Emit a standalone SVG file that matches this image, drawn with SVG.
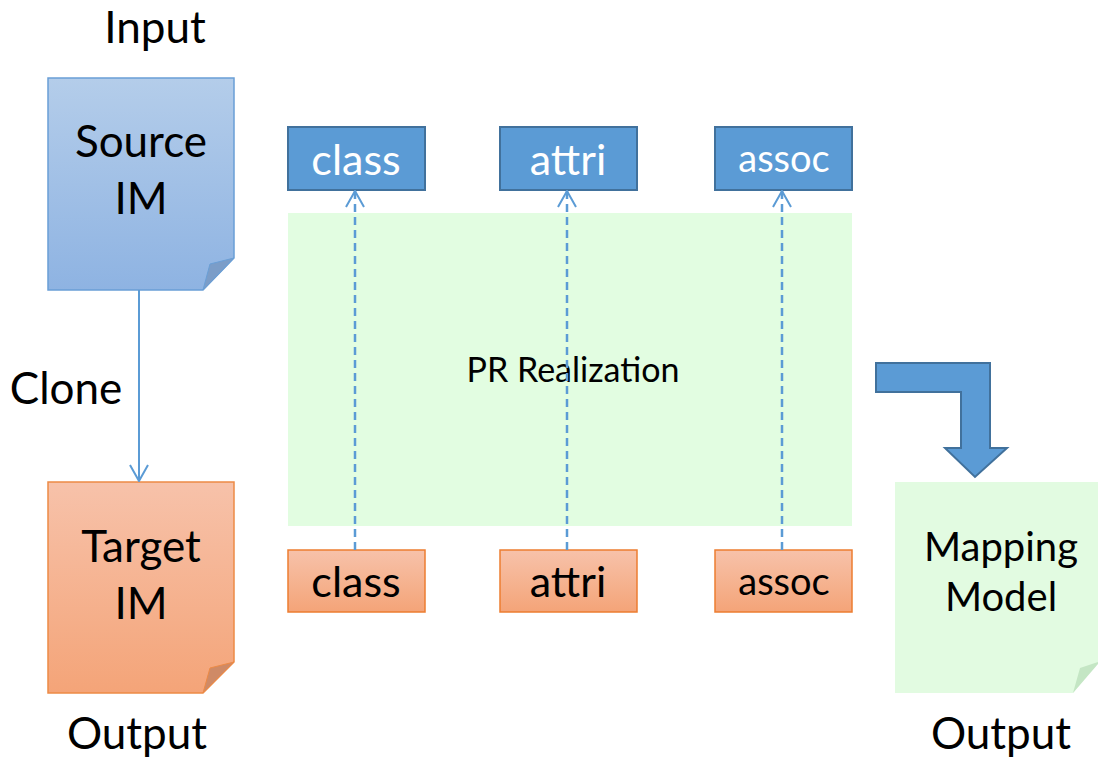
<svg xmlns="http://www.w3.org/2000/svg" width="1098" height="757" viewBox="0 0 1098 757">
<defs>
<linearGradient id="gBlue" x1="0" y1="0" x2="0" y2="1"><stop offset="0" stop-color="#b4cdea"/><stop offset="1" stop-color="#8eb3e2"/></linearGradient>
<linearGradient id="gOr" x1="0" y1="0" x2="0" y2="1"><stop offset="0" stop-color="#f7c2aa"/><stop offset="1" stop-color="#f4a478"/></linearGradient>
<marker id="open" viewBox="0 0 20 20" refX="19" refY="10" markerWidth="20" markerHeight="20" markerUnits="userSpaceOnUse" orient="auto"><path d="M3 1 L19 10 L3 19" fill="none" stroke="#5b9bd5" stroke-width="2"/></marker>
</defs>
<style>
text{font-family:Lato,"Liberation Sans",sans-serif;fill:#000;text-anchor:middle}
.big{font-size:44px}
.box{font-size:43px}
.wt{fill:#fff}
.bbox{fill:#5b9bd5;stroke:#41719c;stroke-width:2}
.obox{fill:url(#gOr);stroke:#ed7d31;stroke-width:1.5}
.dash{stroke:#5b9bd5;stroke-width:2.5;stroke-dasharray:8 5;fill:none}
</style>
<rect width="1098" height="757" fill="#fff"/>
<text class="big" x="155" y="43">Input</text>
<text class="big" x="66" y="404">Clone</text>
<text class="big" x="137" y="749">Output</text>
<text class="big" x="1001" y="749">Output</text>

<g id="pr-realization">
<rect x="288" y="213" width="564" height="313" fill="#e2fde1"/>
<text x="573" y="382" style="font-size:34px">PR Realization</text>
</g>

<g id="source-im">
<polygon points="48,78 234,78 234,258 203,290 48,290" fill="url(#gBlue)" stroke="#6a9fd6" stroke-width="1.5"/>
<polygon points="203,290 210,264 234,258" fill="#7b9dc8" stroke="#6a9fd6" stroke-width="1"/>
<text class="big" x="141" y="157">Source</text>
<text class="big" x="141" y="214">IM</text>
</g>

<g id="target-im">
<polygon points="48,482 234,482 234,662 203,693 48,693" fill="url(#gOr)" stroke="#ed8a45" stroke-width="1.5"/>
<polygon points="203,693 210,668 234,662" fill="#cf8a66" stroke="#ed8a45" stroke-width="1"/>
<text class="big" x="141" y="562">Target</text>
<text class="big" x="141" y="619">IM</text>
</g>

<g id="mapping-model">
<polygon points="895,482 1098,482 1098,662 1073,693 895,693" fill="#e2fbe1"/>
<polygon points="1073,693 1080,668 1098,662 1098,664" fill="#c4e6c4"/>
<text x="1001" y="561" style="font-size:40px">Mapping</text>
<text x="1001" y="611" style="font-size:40px">Model</text>
</g>

<g id="class-top"><rect class="bbox" x="288" y="127" width="137" height="63"/><text class="box wt" x="356" y="175">class</text></g>
<g id="attri-top"><rect class="bbox" x="500" y="127" width="137" height="63"/><text class="box wt" x="568" y="175">attri</text></g>
<g id="assoc-top"><rect class="bbox" x="715" y="127" width="137" height="63"/><text class="wt" x="784" y="172" style="font-size:38px">assoc</text></g>

<g id="class-bottom"><rect class="obox" x="288" y="550" width="137" height="62"/><text class="box" x="356" y="597">class</text></g>
<g id="attri-bottom"><rect class="obox" x="500" y="550" width="137" height="62"/><text class="box" x="568" y="597">attri</text></g>
<g id="assoc-bottom"><rect class="obox" x="715" y="550" width="137" height="62"/><text x="784" y="595" style="font-size:38px">assoc</text></g>

<g id="bent-arrow">
<polygon points="876,363 990,363 990,448 1007,448 975,477 945,448 961,448 961,392 876,392" fill="#5b9bd5" stroke="#41719c" stroke-width="2"/>
</g>

<g id="connectors">
<line x1="139" y1="290" x2="139" y2="481" stroke="#5b9bd5" stroke-width="2" marker-end="url(#open)"/>
<line class="dash" x1="355" y1="550" x2="355" y2="191" marker-end="url(#open)"/>
<line class="dash" x1="567" y1="550" x2="567" y2="191" marker-end="url(#open)"/>
<line class="dash" x1="782" y1="550" x2="782" y2="191" marker-end="url(#open)"/>
</g>
</svg>
